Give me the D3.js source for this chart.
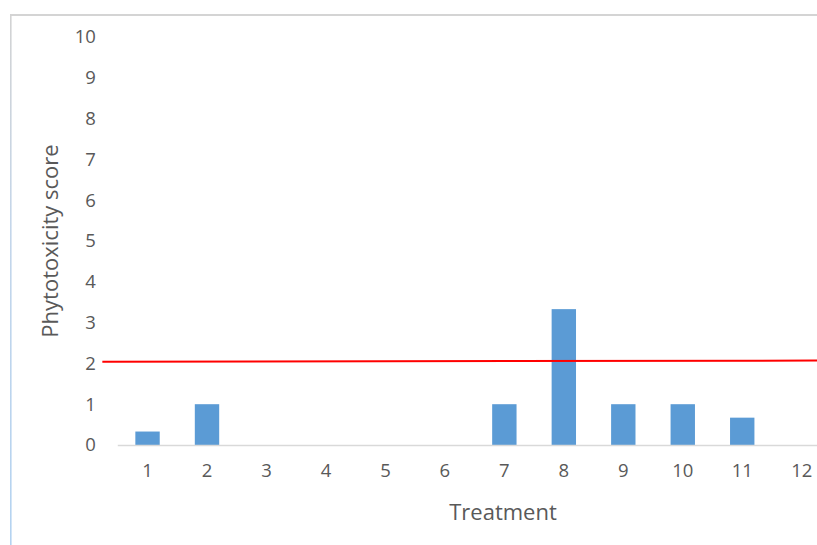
<!DOCTYPE html>
<html>
<head>
<meta charset="utf-8">
<script src="https://cdn.jsdelivr.net/npm/d3@7"></script>
<style>
html,body{margin:0;padding:0;background:#fff;}
svg{display:block;}
</style>
</head>
<body>
<svg id="chart" width="817" height="545"></svg>
<script>
const categories = ["1","2","3","4","5","6","7","8","9","10","11","12"];
const scores = [0.33, 1, 0, 0, 0, 0, 1, 3.33, 1, 1, 0.67, 0];
const yTicks = [0,1,2,3,4,5,6,7,8,9,10];
const thresholdX = [0.24, 12.3];
const thresholdY = [2.04, 2.07];

(function(){
const svg = d3.select("#chart");
const W = 817, H = 545;
const mLeft = 117.8, band = 59.47;
const mRight = mLeft + band * categories.length;
const mTop = 37, mBottom = 445;

const defs = svg.append("defs");
const grad = defs.append("linearGradient").attr("id","lb").attr("x1",0).attr("y1",0).attr("x2",0).attr("y2",1);
grad.append("stop").attr("offset","0%").attr("stop-color","#d3d3d3");
grad.append("stop").attr("offset","40%").attr("stop-color","#c4d6ea");
grad.append("stop").attr("offset","100%").attr("stop-color","#b4d3f1");

// frame
svg.append("line").attr("x1",10).attr("x2",W).attr("y1",15).attr("y2",15)
  .attr("stroke","#d4d4d4").attr("stroke-width",2);
svg.append("rect").attr("x",10).attr("y",14).attr("width",1.6).attr("height",H-14).attr("fill","url(#lb)");

const x = d3.scaleBand().domain(categories).range([mLeft, mRight]).paddingInner(0.59).paddingOuter(0.295);
const xc = d3.scaleLinear().domain([1, categories.length]).range([mLeft + band/2, mLeft + band*(categories.length-0.5)]);
const y = d3.scaleLinear().domain([0,10]).range([mBottom, mTop]);

const font = "'Open Sans', 'Noto Sans', sans-serif";

// y axis labels
const yAxis = d3.axisLeft(y).tickValues(yTicks).tickSize(0).tickPadding(22);
const gy = svg.append("g").attr("transform",`translate(${mLeft},0)`).call(yAxis);
gy.select(".domain").remove();
gy.selectAll("text").attr("fill","#595959").style("font-family",font).style("font-size","18.5px");

// bars
svg.append("g").selectAll("rect").data(scores).join("rect")
  .attr("x",(d,i)=>x(categories[i]))
  .attr("width",x.bandwidth())
  .attr("y",d=>y(d))
  .attr("height",d=>mBottom - y(d))
  .attr("fill","#5b9bd5");

// x axis
const xAxis = d3.axisBottom(x).tickSize(0).tickPadding(19);
const gx = svg.append("g").attr("transform",`translate(0,${mBottom})`).call(xAxis);
gx.select(".domain").remove();
gx.selectAll("text").attr("fill","#595959").style("font-family",font).style("font-size","18.5px");
svg.append("line").attr("x1",mLeft).attr("x2",W).attr("y1",mBottom+0.5).attr("y2",mBottom+0.5)
  .attr("stroke","#d9d9d9").attr("stroke-width",1.5);

// threshold line
const line = d3.line().x(d=>xc(d[0])).y(d=>y(d[1]));
svg.append("path").datum(thresholdX.map((v,i)=>[v, thresholdY[i]]))
  .attr("d",line).attr("fill","none").attr("stroke","#ff0000").attr("stroke-width",2);

// axis titles
svg.append("text").attr("x",503).attr("y",520).attr("text-anchor","middle")
  .attr("fill","#595959").style("font-family",font).style("font-size","22px").text("Treatment");
svg.append("text").attr("transform",`translate(58,241) rotate(-90)`).attr("text-anchor","middle")
  .attr("fill","#595959").style("font-family",font).style("font-size","22px").text("Phytotoxicity score");
})();
</script>
</body>
</html>
